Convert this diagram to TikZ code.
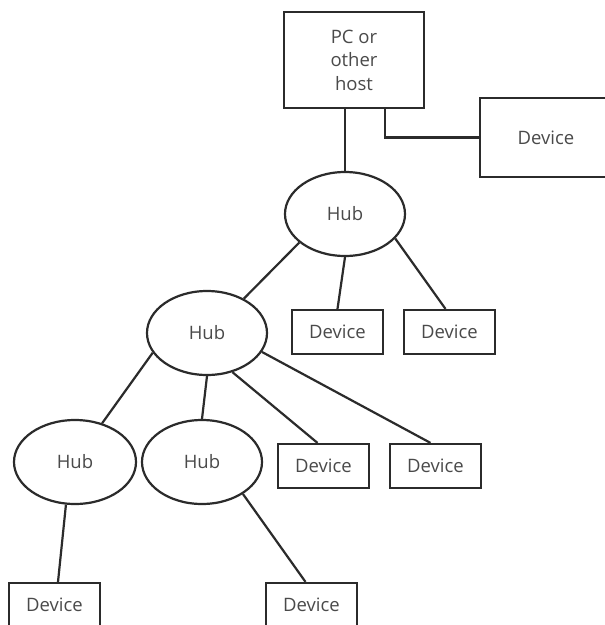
\documentclass[tikz,border=0pt]{standalone}
\usepackage{fontspec}
\setmainfont{Open Sans}
\usetikzlibrary{shapes.geometric}
\definecolor{linec}{HTML}{2B2B2B}
\definecolor{textc}{HTML}{4A4A4A}
\tikzset{
  every node/.style={font=\fontsize{18.5}{23.5}\selectfont, text=textc},
  box/.style={draw=linec, line width=2.2pt, rectangle, inner sep=0pt, fill=white},
  hub/.style={draw=linec, line width=2.2pt, ellipse, inner sep=0pt, minimum width=120pt, minimum height=84pt},
  wire/.style={draw=linec, line width=2.2pt},
}
\begin{document}
\begin{tikzpicture}[x=1pt,y=-1pt]
\useasboundingbox (0,0) rectangle (605,625);
\clip (0,0) rectangle (605,625);
\fill[white] (0,0) rectangle (605,625);
% nodes
\node[box, minimum width=140pt, minimum height=96pt, align=center] (pc) at (354,60) {PC or\\other\\host};
\node[box, minimum width=132pt, minimum height=79pt] (devR) at (546,137.5) {Device};
\node[hub] (hub1) at (345,214) {Hub};
\node[hub] (hub2) at (207,333) {Hub};
\node[box, minimum width=91pt, minimum height=44pt] (dev1) at (337.5,332) {Device};
\node[box, minimum width=91pt, minimum height=44pt] (dev2) at (449.5,332) {Device};
\node[hub, minimum width=122pt] (hub3) at (75,462) {Hub};
\node[hub] (hub4) at (202,462) {Hub};
\node[box, minimum width=91pt, minimum height=44pt] (dev3) at (323.5,466) {Device};
\node[box, minimum width=91pt, minimum height=44pt] (dev4) at (435.5,466) {Device};
\node[box, minimum width=91pt, minimum height=44pt] (dev5) at (54.5,605) {Device};
\node[box, minimum width=91pt, minimum height=44pt] (dev6) at (311.5,605) {Device};
% connectors
\draw[wire] (hub1.north |- pc.south) -- (hub1.north);
\draw[wire] ([xshift=-40pt]pc.south east) |- (devR.west);
\draw[wire] (hub1.212) -- (hub2.43);
\draw[wire] (hub1.south) -- (dev1.north);
\draw[wire] (hub1.-26) -- ([xshift=-4pt]dev2.north);
\draw[wire] (hub2.200) -- (hub3.55);
\draw[wire] (hub2.south) -- (hub4.north);
\draw[wire] (hub2.-57) -- ([xshift=-6pt]dev3.north);
\draw[wire] (hub2.-19) -- ([xshift=-5pt]dev4.north);
\draw[wire] (hub3.-102) -- ([xshift=3.5pt]dev5.north);
\draw[wire] (hub4.-38) -- ([xshift=-6pt]dev6.north);
\end{tikzpicture}
\end{document}
